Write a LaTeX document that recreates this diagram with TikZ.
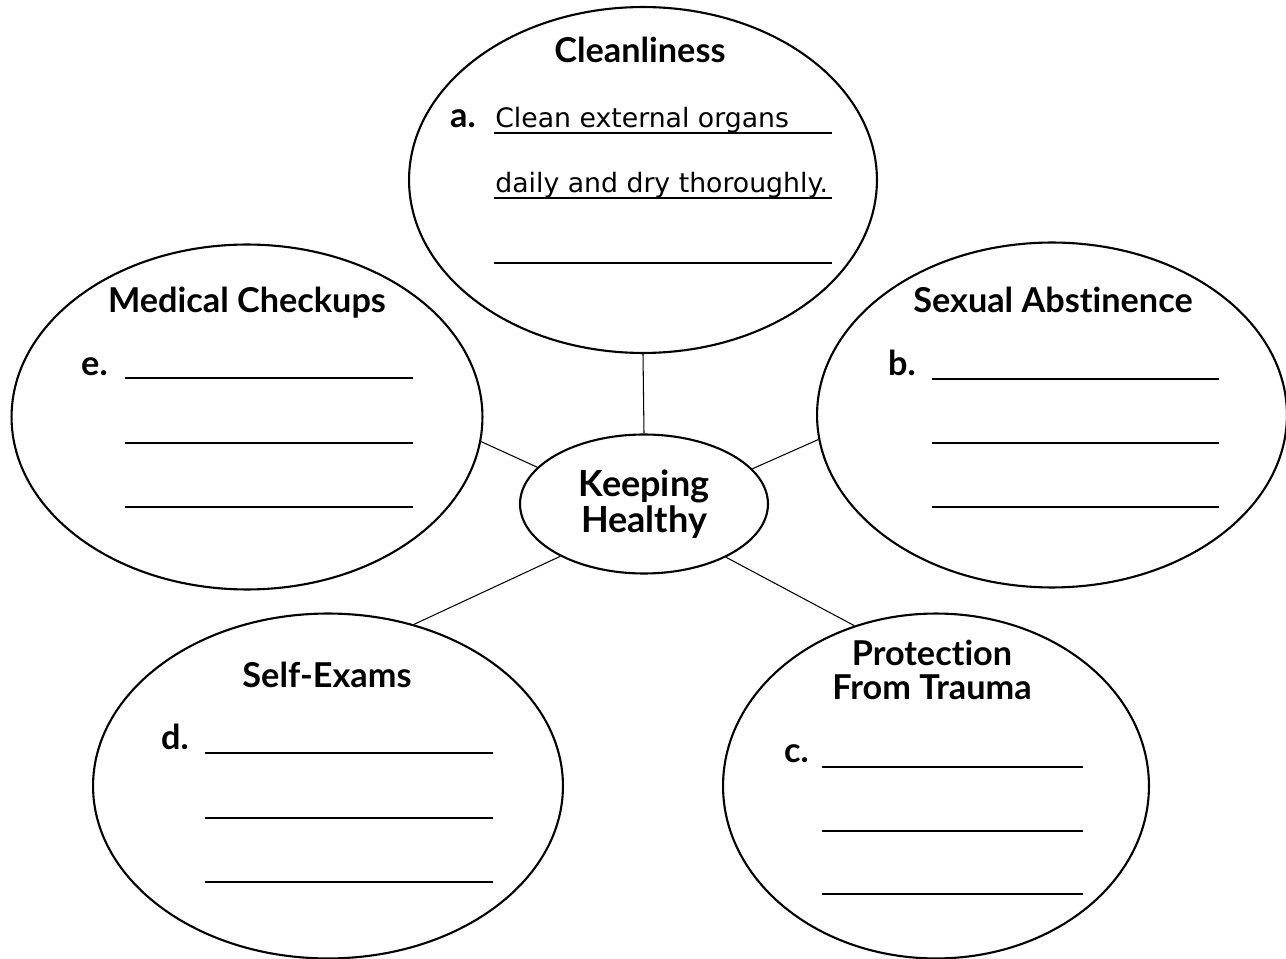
\documentclass[tikz,border=0pt]{standalone}
\usepackage{fontspec}
\setmainfont{Lato}[Ligatures={NoCommon}]
\newfontfamily\handfont{DejaVu Sans}
\usetikzlibrary{shapes.geometric}

\tikzset{
    bubble/.style={draw, ellipse, line width=1.2pt, inner sep=0pt},
    title/.style={anchor=base, font=\fontsize{19.5}{22}\selectfont\bfseries},
    letter/.style={anchor=base west, font=\fontsize{19.5}{22}\selectfont\bfseries},
    answer/.style={anchor=base west, inner sep=0pt, font=\handfont\fontsize{15.2}{18}\selectfont},
    blank/.style={line width=0.8pt},
    spoke/.style={line width=0.6pt}
}

\begin{document}
\begin{tikzpicture}[x=0.02cm, y=-0.02cm]
    \useasboundingbox (0,0) rectangle (1286,959);

    % Nodes {hub, five topics}
    \node [bubble, minimum width=4.96cm, minimum height=2.78cm,
           align=center, font=\fontsize{20.5}{20.5}\selectfont\bfseries]
                                (hub)   at (644,504)  {Keeping\\Healthy};
    \node [bubble, minimum width=9.36cm, minimum height=6.92cm] (clean) at (643,180) {};
    \node [bubble, minimum width=9.40cm, minimum height=6.90cm] (abst)  at (1052,415) {};
    \node [bubble, minimum width=8.52cm, minimum height=6.90cm] (trauma) at (936,786) {};
    \node [bubble, minimum width=9.40cm, minimum height=6.90cm] (exam)  at (328,786) {};
    \node [bubble, minimum width=9.42cm, minimum height=6.90cm] (check) at (247,417) {};

    % Paths
    \path [spoke] (hub.north) edge (clean.south);
    \path [spoke] (hub.18)    edge (abst.186);
    \path [spoke] (hub.-33)   edge (trauma.117);
    \path [spoke] (hub.212)   edge (exam.62);
    \path [spoke] (hub.161)   edge (check.-6);

    % Cleanliness
    \node [title]  (cleanT) at (640,63)  {Cleanliness};
    \node [letter] (cleanL) at (444,128) {a.};
    \node [answer] (cleanA) at (495,128) {Clean external organs};
    \node [answer] (cleanB) at (495,193) {daily and dry thoroughly.};
    \draw [blank] (494,133) -- (832,133);
    \draw [blank] (494,198) -- (832,198);
    \draw [blank] (494,263) -- (832,263);

    % Sexual Abstinence
    \node [title]  (abstT) at (1053,313) {Sexual Abstinence};
    \node [letter] (abstL) at (882,376)  {b.};
    \foreach \y in {379,443,507} \draw [blank] (932,\y) -- (1219,\y);

    % Protection From Trauma
    \node [title]  (traumaT) at (932,665) {Protection};
    \node [title]  (traumaU) at (932,700) {From Trauma};
    \node [letter] (traumaL) at (778,763) {c.};
    \foreach \y in {767,831,894} \draw [blank] (822,\y) -- (1083,\y);

    % Self-Exams
    \node [title]  (examT) at (327,687) {Self-Exams};
    \node [letter] (examL) at (155,749) {d.};
    \foreach \y in {753,818,882} \draw [blank] (205,\y) -- (493,\y);

    % Medical Checkups
    \node [title]  (checkT) at (247,313) {Medical Checkups};
    \node [letter] (checkL) at (75,376)  {e.};
    \foreach \y in {378,443,507} \draw [blank] (125,\y) -- (413,\y);
\end{tikzpicture}
\end{document}
